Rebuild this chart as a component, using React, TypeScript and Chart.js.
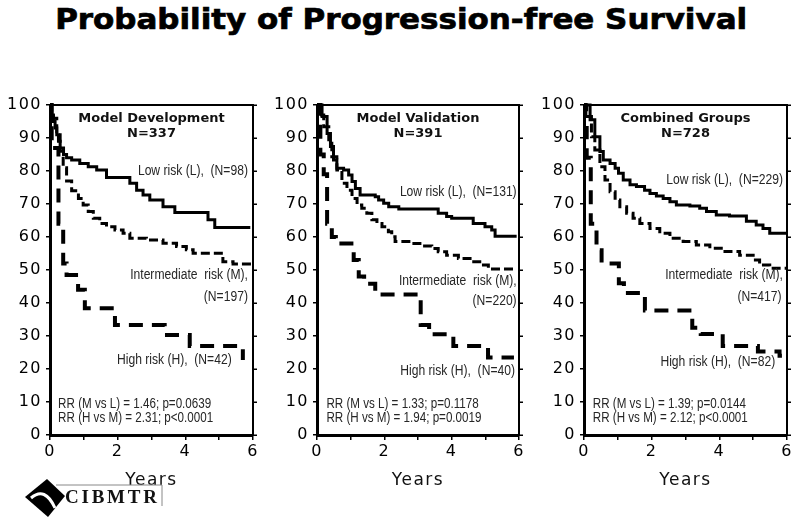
import React, { useEffect, useLayoutEffect, useRef } from 'react';
import { Chart, registerables } from 'chart.js';

Chart.register(...registerables);

// ---------- data ----------
const TITLE = 'Probability of Progression-free Survival';
const xTickLabels = ['0', '', '2', '', '4', '', '6'];
const xTickValues = [0, 1, 2, 3, 4, 5, 6];

// Panel 1: Model Development
const devLowT = [0, 0.05, 0.1, 0.15, 0.2, 0.25, 0.3, 0.4, 0.49, 0.64, 0.88, 1.13, 1.38, 1.67, 2.36, 2.56, 2.75, 2.95, 3.34, 3.69, 4.67, 4.87, 5.92];
const devLowS = [100, 97, 95, 93, 91, 89, 87, 85, 84, 83.3, 82.3, 81.3, 80.3, 78, 76.3, 74.2, 72.7, 71.2, 69.2, 67.4, 65.2, 62.9, 62.9];
const devMidT = [0, 0.05, 0.1, 0.2, 0.3, 0.39, 0.49, 0.64, 0.84, 0.98, 1.13, 1.28, 1.47, 1.67, 1.92, 2.16, 2.36, 2.85, 3.34, 3.74, 4.03, 4.23, 5.11, 5.41, 5.95];
const devMidS = [100, 98, 96, 91, 86, 81, 77, 74, 71.7, 69.7, 67.7, 65.7, 64.1, 63.1, 62.1, 61.1, 59.6, 59.1, 58.1, 57.1, 56.1, 55.1, 52.5, 51.8, 51.8];
const devHighT = [0, 0.05, 0.25, 0.39, 0.49, 0.83, 1.03, 1.92, 3.39, 4.13, 5.7];
const devHighS = [100, 87, 64, 52, 48.5, 44, 38.4, 33.3, 30.3, 27, 22.7];

// Panel 2: Model Validation
const valLowT = [0, 0.15, 0.3, 0.4, 0.49, 0.59, 0.79, 0.94, 1.04, 1.14, 1.28, 1.73, 1.83, 1.98, 2.13, 2.43, 3.6, 3.85, 4.0, 4.64, 4.99, 5.19, 5.29, 5.93];
const valLowS = [100, 96.5, 91.4, 87.4, 83.3, 80.8, 80.3, 78.8, 76.8, 74.7, 72.7, 72.2, 71.2, 70.2, 69.2, 68.5, 67.2, 66.2, 65.7, 64.1, 63.1, 62.1, 60.2, 60.2];
const valMidT = [0, 0.05, 0.2, 0.35, 0.44, 0.59, 0.74, 0.89, 1.04, 1.19, 1.33, 1.48, 1.63, 1.78, 1.93, 2.12, 2.22, 2.32, 2.82, 3.11, 3.41, 3.6, 3.85, 4.2, 4.6, 4.89, 5.09, 5.93];
const valMidS = [100, 97, 93.4, 88.4, 84.3, 80.3, 76.3, 74.2, 71.7, 69.7, 68.7, 67.2, 65.2, 64.1, 63.1, 61.6, 60.1, 58.6, 58, 57.3, 56.5, 55.5, 54.5, 53.5, 52.5, 51.5, 50.3, 50.3];
const valHighT = [0, 0.1, 0.2, 0.3, 0.44, 0.56, 1.09, 1.24, 1.4, 1.73, 3.08, 3.33, 4.05, 5.08, 5.85];
const valHighS = [100, 85, 79, 64, 60, 58, 53, 48, 45.8, 42.6, 33.3, 30.5, 27, 23.5, 23.5];

// Panel 3: Combined Groups
const combLowT = [0, 0.18, 0.32, 0.47, 0.57, 0.77, 0.92, 1.02, 1.16, 1.36, 1.55, 1.79, 1.95, 2.14, 2.34, 2.54, 2.73, 3.13, 3.42, 3.62, 3.91, 4.3, 4.8, 5.09, 5.29, 5.49, 6.0];
const combLowS = [100, 95.5, 90.4, 85.9, 83.3, 82.3, 80.8, 79.3, 77.3, 75.8, 75.3, 74.2, 73.2, 72.4, 71.7, 70.7, 69.7, 69.4, 68.7, 67.7, 66.7, 66.4, 64.8, 63.6, 62.6, 61.1, 61.1];
const combMidT = [0, 0.08, 0.22, 0.32, 0.47, 0.62, 0.77, 0.92, 1.06, 1.26, 1.45, 1.65, 1.95, 2.24, 2.54, 2.93, 3.32, 3.72, 4.11, 4.6, 5.0, 5.19, 5.49, 6.0];
const combMidS = [100, 96.5, 90.4, 86.4, 81.3, 77.3, 73.7, 71.2, 69.2, 67.2, 65.7, 64.1, 62.6, 61.1, 59.6, 58.6, 57.6, 56.6, 55.6, 54.5, 53, 51.5, 50.5, 50.5];
const combHighT = [0, 0.04, 0.08, 0.2, 0.37, 0.52, 1.03, 1.18, 1.8, 3.2, 3.45, 4.1, 5.14, 5.78, 5.85];
const combHighS = [100, 93, 84, 64, 56, 52, 46, 43, 37.7, 32.5, 30.6, 27, 25.3, 24, 24];

// ---------- styles ----------
const SANS = '"Liberation Sans", Arial, sans-serif';
const VERD = '"DejaVu Sans", Verdana, sans-serif';

type Lbl = { text: string; x: number; y: number; align: CanvasTextAlign; bold?: boolean; squeeze?: number };

type PanelCfg = {
  left: number;
  plotWidth: number;
  low: [number[], number[]];
  mid: [number[], number[]];
  high: [number[], number[]];
  labels: Lbl[];
};

const panels: PanelCfg[] = [
  {
    left: 0,
    plotWidth: 203,
    low: [devLowT, devLowS],
    mid: [devMidT, devMidS],
    high: [devHighT, devHighS],
    labels: [
      { text: 'Model Development', x: 3, y: 96, align: 'center', bold: true },
      { text: 'N=337', x: 3, y: 91.4, align: 'center', bold: true },
      { text: 'Low risk (L),  (N=98)', x: 5.85, y: 80, align: 'right' },
      { text: 'Intermediate  risk (M),', x: 5.85, y: 48.5, align: 'right' },
      { text: '(N=197)', x: 5.85, y: 41.8, align: 'right' },
      { text: 'High risk (H),  (N=42)', x: 5.37, y: 22.7, align: 'right' },
      { text: 'RR (M vs L) = 1.46; p=0.0639', x: 0.24, y: 9.2, align: 'left', squeeze: 0.83 },
      { text: 'RR (H vs M) = 2.31; p<0.0001', x: 0.24, y: 5.2, align: 'left', squeeze: 0.83 },
    ],
  },
  {
    left: 267,
    plotWidth: 202,
    low: [valLowT, valLowS],
    mid: [valMidT, valMidS],
    high: [valHighT, valHighS],
    labels: [
      { text: 'Model Validation', x: 3, y: 96, align: 'center', bold: true },
      { text: 'N=391', x: 3, y: 91.4, align: 'center', bold: true },
      { text: 'Low risk (L),  (N=131)', x: 5.93, y: 73.7, align: 'right' },
      { text: 'Intermediate  risk (M),', x: 5.93, y: 46.5, align: 'right' },
      { text: '(N=220)', x: 5.93, y: 40.7, align: 'right' },
      { text: 'High risk (H),  (N=40)', x: 5.88, y: 19.2, align: 'right' },
      { text: 'RR (M vs L) = 1.33; p=0.1178', x: 0.28, y: 9.4, align: 'left', squeeze: 0.83 },
      { text: 'RR (H vs M) = 1.94; p=0.0019', x: 0.28, y: 5.2, align: 'left', squeeze: 0.83 },
    ],
  },
  {
    left: 534,
    plotWidth: 203,
    low: [combLowT, combLowS],
    mid: [combMidT, combMidS],
    high: [combHighT, combHighS],
    labels: [
      { text: 'Combined Groups', x: 3, y: 96, align: 'center', bold: true },
      { text: 'N=728', x: 3, y: 91.4, align: 'center', bold: true },
      { text: 'Low risk (L),  (N=229)', x: 5.88, y: 77.3, align: 'right' },
      { text: 'Intermediate  risk (M),', x: 5.88, y: 48.5, align: 'right' },
      { text: '(N=417)', x: 5.84, y: 41.9, align: 'right' },
      { text: 'High risk (H),  (N=82)', x: 5.65, y: 22.2, align: 'right' },
      { text: 'RR (M vs L) = 1.39; p=0.0144', x: 0.26, y: 9.3, align: 'left', squeeze: 0.83 },
      { text: 'RR (H vs M) = 2.12; p<0.0001', x: 0.26, y: 5.2, align: 'left', squeeze: 0.83 },
    ],
  },
];

const CANVAS_W = 265;
const CANVAS_H = 401;
const CANVAS_TOP = 90;
const YAXIS_W = 50;
const XAXIS_H = 56;

function pts(t: number[], s: number[]) {
  return t.map((v, i) => ({ x: v, y: s[i] }));
}

function Panel({ cfg }: { cfg: PanelCfg }) {
  const ref = useRef<HTMLCanvasElement | null>(null);
  useEffect(() => {
    if (!ref.current) return;
    const labels = cfg.labels;
    const annot = {
      id: 'annot',
      beforeDraw(chart: any) {
        (chart.ctx as any).letterSpacing = '1.5px';
      },
      beforeDatasetsDraw(chart: any) {
        (chart.ctx as any).letterSpacing = '0px';
      },
      afterDatasetsDraw(chart: any) {
        const { ctx, chartArea: a, scales } = chart;
        const xs = scales.x;
        const ys = scales.y;
        ctx.save();
        (ctx as any).letterSpacing = '0px';
        ctx.strokeStyle = '#000';
        ctx.lineWidth = 2;
        ctx.beginPath();
        ctx.moveTo(a.left, a.top);
        ctx.lineTo(a.right, a.top);
        ctx.lineTo(a.right, a.bottom);
        ctx.stroke();
        ctx.lineWidth = 1.5;
        ctx.beginPath();
        for (let v = 0; v <= 100; v += 10) {
          const py = Math.round(ys.getPixelForValue(v)) + 0.25;
          ctx.moveTo(a.right, py);
          ctx.lineTo(a.right + 4, py);
        }
        ctx.stroke();
        ctx.textBaseline = 'middle';
        for (const L of labels) {
          ctx.font = L.bold ? `bold 13px ${VERD}` : `14px ${SANS}`;
          ctx.fillStyle = L.bold ? '#111' : '#262626';
          ctx.textAlign = L.align;
          const px = xs.getPixelForValue(L.x);
          const py = ys.getPixelForValue(L.y);
          if (L.bold) {
            ctx.fillText(L.text, px, py);
          } else {
            const w = ctx.measureText(L.text).width * (L.squeeze ?? 0.865);
            ctx.fillText(L.text, px, py, w);
          }
        }
        ctx.restore();
      },
    };
    const line = (d: [number[], number[]], width: number, dash: number[]) => ({
      data: pts(d[0], d[1]),
      borderColor: '#000',
      borderWidth: width,
      borderDash: dash,
      stepped: true as const,
      pointRadius: 0,
      fill: false,
      clip: false as any,
      borderCapStyle: 'butt' as const,
    });
    const chart = new Chart(ref.current, {
      type: 'line',
      data: {
        datasets: [
          line(cfg.high, 4, [14, 9]),
          line(cfg.mid, 3, [9, 4]),
          line(cfg.low, 3, []),
        ],
      },
      options: {
        responsive: false,
        animation: false,
        devicePixelRatio: 1,
        events: [],
        layout: { padding: { top: 15, right: CANVAS_W - YAXIS_W - cfg.plotWidth, bottom: 0, left: 0 } },
        plugins: { legend: { display: false }, tooltip: { enabled: false }, title: { display: false } },
        scales: {
          x: {
            type: 'linear',
            min: 0,
            max: 6,
            afterBuildTicks: (s: any) => {
              s.ticks = xTickValues.map((v) => ({ value: v }));
            },
            ticks: {
              autoSkip: false,
              maxRotation: 0,
              padding: 2,
              color: '#000',
              font: { family: VERD, size: 16 },
              callback: (_v: any, i: number) => xTickLabels[i],
            },
            grid: { drawOnChartArea: false, tickLength: 5, color: '#000', lineWidth: 1.5 },
            border: { color: '#000', width: 3 },
            title: {
              display: true,
              text: 'Years',
              color: '#111',
              font: { family: VERD, size: 17 },
              padding: { top: 0, bottom: 0 },
            },
            afterFit: (s: any) => {
              s.height = XAXIS_H;
            },
          },
          y: {
            type: 'linear',
            min: 0,
            max: 100,
            ticks: {
              stepSize: 10,
              padding: 4,
              color: '#000',
              font: { family: VERD, size: 16 },
            },
            grid: { drawOnChartArea: false, tickLength: 4, color: '#000', lineWidth: 1.5 },
            border: { color: '#000', width: 3 },
            afterFit: (s: any) => {
              s.width = YAXIS_W;
            },
          },
        },
      },
      plugins: [annot],
    } as any);
    return () => chart.destroy();
  }, [cfg]);
  return (
    <canvas
      ref={ref}
      width={CANVAS_W}
      height={CANVAS_H}
      style={{ position: 'absolute', left: cfg.left, top: CANVAS_TOP, width: CANVAS_W, height: CANVAS_H }}
    />
  );
}

function Title() {
  const ref = useRef<HTMLDivElement | null>(null);
  useLayoutEffect(() => {
    const el = ref.current;
    if (!el) return;
    const w = el.getBoundingClientRect().width;
    const target = 692;
    const s = target / w;
    el.style.transform = `scaleX(${s})`;
    el.style.left = `${401 - w / 2}px`;
  }, []);
  return (
    <div
      ref={ref}
      style={{
        position: 'absolute',
        top: 6,
        left: 55,
        whiteSpace: 'nowrap',
        font: `bold 28px ${VERD}`,
        lineHeight: '28px',
        color: '#000',
        WebkitTextStroke: '0.7px #000',
        transformOrigin: 'center center',
      }}
    >
      {TITLE}
    </div>
  );
}

function Logo() {
  return (
    <svg
      width={170}
      height={52}
      style={{ position: 'absolute', left: 15, top: 470 }}
      viewBox="0 0 170 52"
    >
      <polygon points="32,9 50,26 33,47 10,27" fill="#000" />
      <path d="M 16 28 Q 30 16 40 38" stroke="#fff" strokeWidth={3} fill="none" />
      <line x1={41} y1={15} x2={147} y2={15} stroke="#888" strokeWidth={1} />
      <line x1={147} y1={15} x2={147} y2={36} stroke="#888" strokeWidth={1} />
      <text
        x={50}
        y={33}
        fontFamily='"Liberation Serif", "Times New Roman", serif'
        fontWeight="bold"
        fontSize={19}
        textLength={92}
        lengthAdjust="spacing"
        fill="#111"
      >
        CIBMTR
      </text>
    </svg>
  );
}

export default function App() {
  return (
    <div
      style={{
        position: 'fixed',
        left: 0,
        top: 0,
        width: 800,
        height: 523,
        background: '#fff',
        overflow: 'hidden',
      }}
    >
      <Title />
      {panels.map((p, i) => (
        <Panel key={i} cfg={p} />
      ))}
      <Logo />
    </div>
  );
}
